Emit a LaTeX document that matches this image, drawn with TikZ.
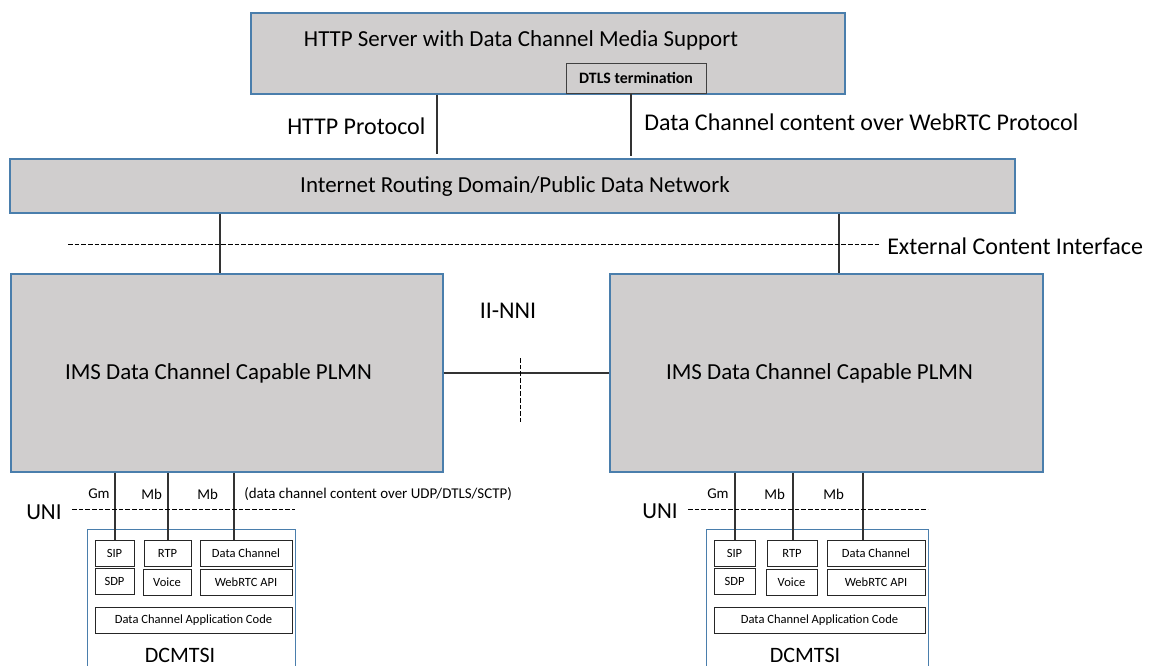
\documentclass[tikz,border=0pt]{standalone}
\usepackage{fontspec}
\setmainfont{Carlito}
\definecolor{panel}{HTML}{D0CECE}
\definecolor{edge}{HTML}{4A7EAC}
\newcommand\bx[7]{\node[#2,minimum width={(#5-#3)*0.75pt},minimum height={(#6-#4)*0.75pt}] (#1) at ({(#3+#5)/2},{(#4+#6)/2}) {#7};}
\tikzset{
 big/.style={draw=edge,fill=panel,line width=0.8pt,inner sep=0pt},
 term/.style={draw=edge,fill=white,line width=0.75pt,inner sep=0pt},
 cell/.style={draw=black!85,fill=white,line width=0.75pt,inner sep=0pt,font=\fontsize{9.4}{11}\selectfont},
 link/.style={draw=black!80,line width=0.8pt},
 refline/.style={draw=black,line width=0.55pt,dash pattern=on 3.4pt off 1.6pt},
 lab/.style={inner sep=0pt,font=\fontsize{18}{20}\selectfont},
 mid/.style={inner sep=0pt,font=\fontsize{17.2}{20}\selectfont},
 foot/.style={inner sep=0pt,font=\fontsize{16.5}{18}\selectfont},
 small/.style={inner sep=0pt,font=\fontsize{11.2}{13}\selectfont},
}
\begin{document}
\begin{tikzpicture}[x=0.75pt,y=-0.75pt]
\path[use as bounding box] (0,0) rectangle (1151,665);
\clip (0,0) rectangle (1151,665);
\bx{server}{big}{251}{13}{845}{94}{}
\node[mid] (servertext) at (521,40) {HTTP Server with Data Channel Media Support};
\bx{dtls}{cell,draw=black!75,fill=panel,font=\fontsize{11.9}{13}\selectfont\bfseries}{566}{63}{706}{93}{DTLS termination}
\bx{net}{big}{10}{159}{1015}{213}{}
\node[mid] (nettext) at (515,187) {Internet Routing Domain/Public Data Network};
\bx{plmnL}{big}{11}{274}{443}{472}{}
\node[mid] (plmnLtext) at (218.5,373) {IMS Data Channel Capable PLMN};
\bx{plmnR}{big}{610}{274}{1043}{472}{}
\node[mid] (plmnRtext) at (819.5,373) {IMS Data Channel Capable PLMN};
% terminals
\bx{termL}{term}{87}{529}{295}{672}{}
\bx{sipL}{cell}{95}{540}{134}{566}{SIP}
\bx{sdpL}{cell}{95}{568}{134}{594}{SDP}
\bx{rtpL}{cell}{144}{540}{191}{566}{RTP}
\bx{voiceL}{cell}{143}{569}{191}{595}{Voice}
\bx{dcL}{cell}{200}{540}{292}{566}{Data Channel}
\bx{apiL}{cell}{200}{569}{292}{595}{WebRTC API}
\bx{appL}{cell}{95}{607}{292}{633}{Data Channel Application Code}
\bx{termR}{term}{706}{529}{928}{672}{}
\bx{sipR}{cell}{714}{540}{755}{566}{SIP}
\bx{sdpR}{cell}{714}{568}{755}{594}{SDP}
\bx{rtpR}{cell}{767}{540}{817}{566}{RTP}
\bx{voiceR}{cell}{766}{569}{817}{595}{Voice}
\bx{dcR}{cell}{827}{540}{925}{566}{Data Channel}
\bx{apiR}{cell}{827}{569}{925}{595}{WebRTC API}
\bx{appR}{cell}{714}{607}{925}{633}{Data Channel Application Code}
\node[foot] (dcmL) at (180,655) {DCMTSI};
\node[foot] (dcmR) at (805,655) {DCMTSI};
% x positions
\coordinate (xHttp) at (437,0);
\coordinate (xData) at (631,0);
\coordinate (xNetL) at (220,0);
\coordinate (xNetR) at (839,0);
\coordinate (xGmL) at (115,0);
\coordinate (xMbL) at (168,0);
\coordinate (xDcL) at (234,0);
\coordinate (xGmR) at (735,0);
\coordinate (xMbR) at (793,0);
\coordinate (xDcR) at (863,0);
% connectors
\draw[link,shorten >=3pt] (xHttp |- server.south) -- (xHttp |- net.north);
\draw[link,shorten >=1.5pt] (xData |- dtls.south) -- (xData |- net.north);
\draw[link] (xNetL |- net.south) -- (xNetL |- plmnL.north);
\draw[link] (xNetR |- net.south) -- (xNetR |- plmnR.north);
\draw[link] (plmnL.east) -- (plmnR.west);
\draw[link] (xGmL |- plmnL.south) -- (xGmL |- sipL.north);
\draw[link] (xMbL |- plmnL.south) -- (xMbL |- rtpL.north);
\draw[link] (xDcL |- plmnL.south) -- (xDcL |- dcL.north);
\draw[link] (xGmR |- plmnR.south) -- (xGmR |- sipR.north);
\draw[link] (xMbR |- plmnR.south) -- (xMbR |- rtpR.north);
\draw[link] (xDcR |- plmnR.south) -- (xDcR |- dcR.north);
% dashed reference lines
\coordinate (extA) at (68,244);
\coordinate (extB) at (880,244);
\coordinate (nniA) at (520,358);
\coordinate (nniB) at (520,422);
\coordinate (uniLa) at (72,509);
\coordinate (uniLb) at (295,509);
\coordinate (uniRa) at (688,509);
\coordinate (uniRb) at (928,509);
\draw[refline] (extA) -- (extB);
\draw[refline] (nniA) -- (nniB);
\draw[refline] (uniLa) -- (uniLb);
\draw[refline] (uniRa) -- (uniRb);
% labels
\node[lab,anchor=west] (lHttp) at (287,126) {HTTP Protocol};
\node[lab,anchor=west] (lData) at (644,122) {Data Channel content over WebRTC Protocol};
\node[lab,anchor=west] (lExt) at (887,246) {External Content Interface};
\node[lab] (lNni) at (508,311) {II-NNI};
\node[mid,anchor=west] (lUniL) at (26,512) {UNI};
\node[mid,anchor=west] (lUniR) at (642,511) {UNI};
\node[small,anchor=west] (lGmL) at (88,494) {Gm};
\node[small,anchor=west] (lMbL) at (141,494) {Mb};
\node[small,anchor=west] (lMbL2) at (197,494) {Mb};
\node[small,anchor=west] (lNote) at (244,494) {(data channel content over UDP/DTLS/SCTP)};
\node[small,anchor=west] (lGmR) at (707,494) {Gm};
\node[small,anchor=west] (lMbR) at (764,494) {Mb};
\node[small,anchor=west] (lMbR2) at (823,494) {Mb};
\end{tikzpicture}
\end{document}
